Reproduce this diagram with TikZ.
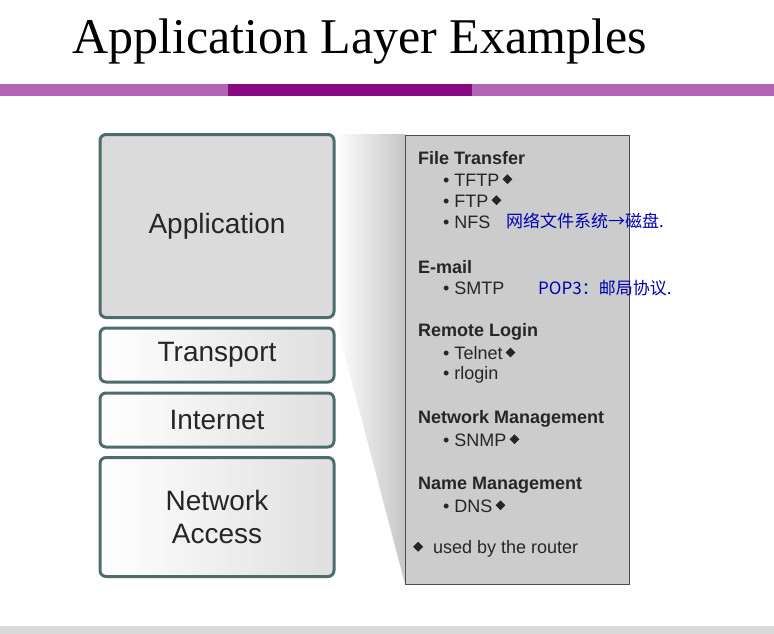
\documentclass[tikz,border=0pt]{standalone}
\usepackage{fontspec}
\setmainfont{Liberation Sans}
\newfontfamily\ttl{Liberation Serif}
\newfontfamily\cjk{Noto Sans CJK SC}
\newcommand{\dia}{\raisebox{2pt}{\rotatebox{45}{\rule{7pt}{7pt}}}}
\definecolor{edge}{RGB}{78,108,108}
\begin{document}
\begin{tikzpicture}[x=1pt,y=-1pt,
  layer/.style={draw=edge, line width=3pt, rounded corners=6pt, font=\fontsize{28}{33}\selectfont, text=black!85, align=center},
  hd/.style={anchor=west, font=\bfseries\fontsize{18}{20}\selectfont, inner sep=0, text=black!85},
  it/.style={anchor=west, font=\fontsize{18}{20}\selectfont, inner sep=0, text=black!85},
  hand/.style={anchor=west, inner sep=0, text=blue!70!black, font=\cjk\fontsize{17}{18}\selectfont}]
\useasboundingbox (0,0) rectangle (774,634);
\fill[white] (0,0) rectangle (774,634);
\node[anchor=base west, inner sep=0, font=\ttl\fontsize{50}{54}\selectfont] (title) at (72,54) {Application Layer Examples};
\fill[color={rgb,255:red,180;green,100;blue,180}] (0,84) rectangle (774,96);
\fill[color={rgb,255:red,135;green,10;blue,130}] (228,84) rectangle (472,96);
\fill[gray!30] (0,626) rectangle (774,634);
% wedge
\shade[left color=white, right color=gray!45] (335,134) -- (405,134) -- (405,584) -- (335,318) -- cycle;
% layers
\node[layer, fill=gray!28, minimum width=234, minimum height=183] (app) at (217,226) {Application};
\node[layer, left color=white, right color=gray!25, minimum width=234, minimum height=54] (tr) at (217,355) {Transport};
\node[layer, left color=white, right color=gray!25, minimum width=234, minimum height=54] (in) at (217,420) {Internet};
\node[layer, left color=white, right color=gray!25, minimum width=234, minimum height=119] (na) at (217,517) {Network\\Access};
% right box
\node[draw=black!70, line width=1pt, fill=gray!40, minimum width=224, minimum height=449, anchor=north west, inner sep=0] (box) at (405,135) {};
\node[hd] (h1) at (418,158) {File Transfer};
\node[it] (i1) at (443,180) {• TFTP\,\dia};
\node[it] (i2) at (443,201) {• FTP\,\dia};
\node[it] (i3) at (443,222) {• NFS};
\node[hd] (h2) at (418,267) {E-mail};
\node[it] (i4) at (443,288) {• SMTP};
\node[hd] (h3) at (418,332) {Remote Login};
\node[it] (i5) at (443,353) {• Telnet\,\dia};
\node[it] (i6) at (443,375) {• rlogin};
\node[hd] (h4) at (418,419) {Network Management};
\node[it] (i7) at (443,440) {• SNMP\,\dia};
\node[hd] (h5) at (418,485) {Name Management};
\node[it] (i8) at (443,506) {• DNS\,\dia};
\node[it] (i9) at (413,549) {\dia\ \ used by the router};
\node[hand] (n1) at (506,221) {网络文件系统→磁盘.};
\node[hand] (n2) at (538,288) {POP3：邮局协议.};
\end{tikzpicture}
\end{document}
